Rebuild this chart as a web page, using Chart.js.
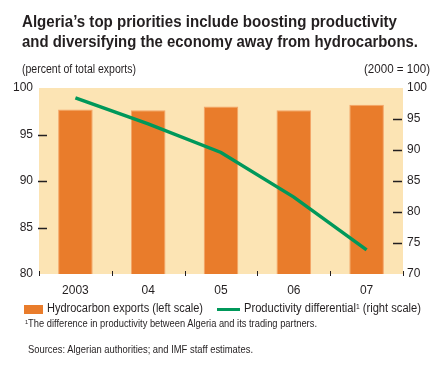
<!DOCTYPE html>
<html>
<head>
<meta charset="utf-8">
<script src="https://cdn.jsdelivr.net/npm/chart.js@4.4.1/dist/chart.umd.min.js"></script>
<style>
  html, body { margin: 0; padding: 0; background: #fff; }
  body { width: 448px; height: 379px; position: relative; overflow: hidden; color: #231f20;
         font-family: 'Liberation Sans Narrow', 'Liberation Sans', Arial, sans-serif; }
  #chart { position: absolute; left: 0; top: 0; }
  .t { position: absolute; white-space: nowrap; display: inline-block; transform-origin: left center; }
  .title { font-weight: bold; font-size: 17px; line-height: 17px; }
  .sub { font-size: 12px; line-height: 12px; }
  .leg { font-size: 12.5px; line-height: 12.5px; }
  .note { font-size: 10px; line-height: 10px; }
  .src { font-size: 11px; line-height: 11px; }
  sup { font-size: 60%; vertical-align: 0.45em; line-height: 0; }
  .swatch { position: absolute; }
</style>
</head>
<body>
<canvas id="chart" width="448" height="379"></canvas>

<div class="t title" style="left:22px; top:13px" data-w="375">Algeria’s top priorities include boosting productivity</div>
<div class="t title" style="left:22px; top:33px" data-w="396">and diversifying the economy away from hydrocarbons.</div>
<div class="t sub" style="left:22px; top:63px" data-w="114">(percent of total exports)</div>
<div class="t sub" style="left:364px; top:63px" data-w="66">(2000 = 100)</div>

<div class="swatch" style="left:24px; top:305px; width:19px; height:9px; background:#e97c2b"></div>
<div class="t leg" style="left:47px; top:301.5px" data-w="156">Hydrocarbon exports (left scale)</div>
<div class="swatch" style="left:217px; top:308px; width:23px; height:3px; background:#00985a"></div>
<div class="t leg" style="left:244px; top:301.5px" data-w="177">Productivity differential<sup>1</sup> (right scale)</div>
<div class="t note" style="left:25px; top:318.5px" data-w="292"><sup>1</sup>The difference in productivity between Algeria and its trading partners.</div>
<div class="t src" style="left:28px; top:343.5px" data-w="225">Sources: Algerian authorities; and IMF staff estimates.</div>

<script>
const years = ['2003', '04', '05', '06', '07'];
const hydrocarbonExports = [97.7, 97.6, 98.0, 97.6, 98.2];
const productivityDiff = [98.4, 94.2, 89.6, 82.4, 73.9];
const leftTicks = [80, 85, 90, 95, 100];
const rightTicks = [70, 75, 80, 85, 90, 95, 100];

const ink = '#231f20';
const plotBg = '#fce4b4';

// squeeze the html texts to the widths measured on the reference
document.querySelectorAll('[data-w]').forEach((el) => {
  const w = el.getBoundingClientRect().width;
  el.style.transform = `scaleX(${el.dataset.w / w})`;
});

const decor = {
  id: 'decor',
  beforeDatasetsDraw(chart) {
    const { ctx, chartArea: a } = chart;
    ctx.save();
    ctx.fillStyle = plotBg;
    ctx.fillRect(a.left, a.top, a.right - a.left, a.bottom - a.top);
    ctx.restore();
  },
  afterDatasetsDraw(chart) {
    const { ctx, chartArea: a, scales } = chart;
    ctx.save();
    ctx.strokeStyle = ink;
    ctx.lineWidth = 1.5;
    ctx.beginPath();
    [95, 90, 85].forEach((v) => {
      const y = Math.round(scales.y.getPixelForValue(v)) + 0.5;
      ctx.moveTo(a.left - 1, y);
      ctx.lineTo(a.left + 8, y);
    });
    [95, 90, 85, 80, 75].forEach((v) => {
      const y = Math.round(scales.y1.getPixelForValue(v)) + 0.5;
      ctx.moveTo(a.right - 10, y);
      ctx.lineTo(a.right - 1, y);
    });
    ctx.stroke();
    // small category boundary ticks on the bottom edge
    ctx.lineWidth = 1;
    ctx.beginPath();
    const half = (scales.x.getPixelForValue(1) - scales.x.getPixelForValue(0)) / 2;
    for (let i = 0; i <= years.length; i++) {
      const x = Math.round(scales.x.getPixelForValue(i) - half) + 0.5;
      ctx.moveTo(x, a.bottom - 3);
      ctx.lineTo(x, a.bottom + 2);
    }
    ctx.stroke();
    ctx.restore();
  },
};

const tickFont = { family: "'Liberation Sans', Arial, sans-serif", size: 12 };

new Chart(document.getElementById('chart'), {
  data: {
    labels: years,
    datasets: [
      {
        type: 'line',
        data: productivityDiff,
        yAxisID: 'y1',
        borderColor: '#00985a',
        borderWidth: 3.5,
        pointRadius: 0,
        tension: 0,
        order: 0,
      },
      {
        type: 'bar',
        data: hydrocarbonExports,
        yAxisID: 'y',
        backgroundColor: '#e97c2b',
        borderColor: '#f3a468',
        borderWidth: 1,
        categoryPercentage: 1,
        barPercentage: 0.475,
        order: 1,
      },
    ],
  },
  options: {
    responsive: false,
    animation: false,
    layout: { padding: { top: 88, bottom: 80, left: 0, right: 0 } },
    plugins: { legend: { display: false }, tooltip: { enabled: false } },
    scales: {
      x: {
        offset: true,
        grid: { display: false, drawTicks: false },
        border: { display: false },
        ticks: { font: tickFont, color: ink, padding: 9 },
        afterFit: (s) => { s.height = 25; },
      },
      y: {
        position: 'left',
        min: 80,
        max: 100,
        afterBuildTicks: (s) => { s.ticks = leftTicks.map((v) => ({ value: v })); },
        grid: { display: false, drawTicks: false },
        border: { display: false },
        ticks: { font: tickFont, color: ink, padding: 6 },
        afterFit: (s) => { s.width = 39; },
      },
      y1: {
        position: 'right',
        min: 70,
        max: 100,
        afterBuildTicks: (s) => { s.ticks = rightTicks.map((v) => ({ value: v })); },
        grid: { display: false, drawTicks: false },
        border: { display: false },
        ticks: { font: tickFont, color: ink, padding: 4 },
        afterFit: (s) => { s.width = 45; },
      },
    },
  },
  plugins: [decor],
});
</script>
</body>
</html>
